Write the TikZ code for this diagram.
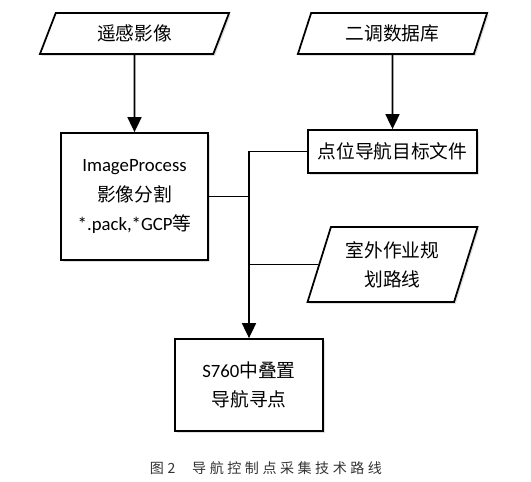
\documentclass[tikz,border=0pt]{standalone}
\usepackage{fontspec}
\setmainfont{Carlito}
\newfontfamily\cjk{Noto Sans CJK SC}
\newfontfamily\capfont[LetterSpace=25]{Noto Sans CJK SC}
\usepackage{tikz}
\usetikzlibrary{
    shapes.geometric,
    arrows.meta,
    positioning,
    shadows
}

\begin{document}
\begin{tikzpicture}[
    x=0.03cm, y=-0.03cm,
    boxShadow/.style={
        drop shadow={shadow xshift=1.5pt, shadow yshift=-1.5pt, fill=black, opacity=0.12}
    },
    procBox/.style={
        rectangle, draw=black, line width=1.5pt, fill=white, boxShadow,
        font=\fontsize{16}{25}\selectfont, align=center, inner sep=2pt
    },
    dataBox/.style={
        trapezium, trapezium left angle=70, trapezium right angle=110,
        trapezium stretches=true,
        draw=black, line width=1.5pt, fill=white, boxShadow,
        font=\fontsize{16}{25}\selectfont, align=center, inner sep=2pt
    },
    flowArrow/.style={
        -{Triangle[length=0.45cm, width=0.42cm]}, line width=1.5pt, draw=black
    },
    flowLine/.style={
        line width=1.5pt, draw=black
    },
    capLabel/.style={
        font=\capfont\fontsize{12}{14}\selectfont, text=black!80
    }
]

    \useasboundingbox (0,0) rectangle (531,482);

    % Inputs
    \node[dataBox, minimum width=5.7cm, minimum height=1.23cm] (rs) at (134.5,33.5) {\cjk 遥感影像};
    \node[dataBox, minimum width=5.7cm, minimum height=1.23cm] (db) at (392.5,33.5) {\cjk 二调数据库};

    % Processing
    \node[procBox, minimum width=4.41cm, minimum height=3.81cm] (ip) at (134.5,196.5)
        {ImageProcess\\{\cjk 影像分割}\\*.pack,*GCP{\cjk 等}};
    \node[procBox, minimum width=5.07cm, minimum height=1.29cm] (target) at (392.5,151.5)
        {\cjk 点位导航目标文件};
    \node[dataBox, minimum width=5.1cm, minimum height=2.25cm] (route) at (392.5,264.5)
        {\cjk 室外作业规\\\cjk 划路线};

    % Output
    \node[procBox, minimum width=4.44cm, minimum height=2.76cm] (s760) at (249,385)
        {S760{\cjk 中叠置}\\{\cjk 导航寻点}};

    % Connectors
    \draw[flowArrow] (rs) -- (ip);
    \draw[flowArrow] (db) -- (target);
    \draw[flowArrow] (target.west) -| (s760.north);
    \draw[flowLine] (ip.east) -- (ip.east -| s760.north);
    \draw[flowLine] (route.west) -- (route.west -| s760.north);

    % Caption
    \node[capLabel] (cap) at (266,468) {图2\hspace{1.2em}导航控制点采集技术路线};

\end{tikzpicture}
\end{document}
